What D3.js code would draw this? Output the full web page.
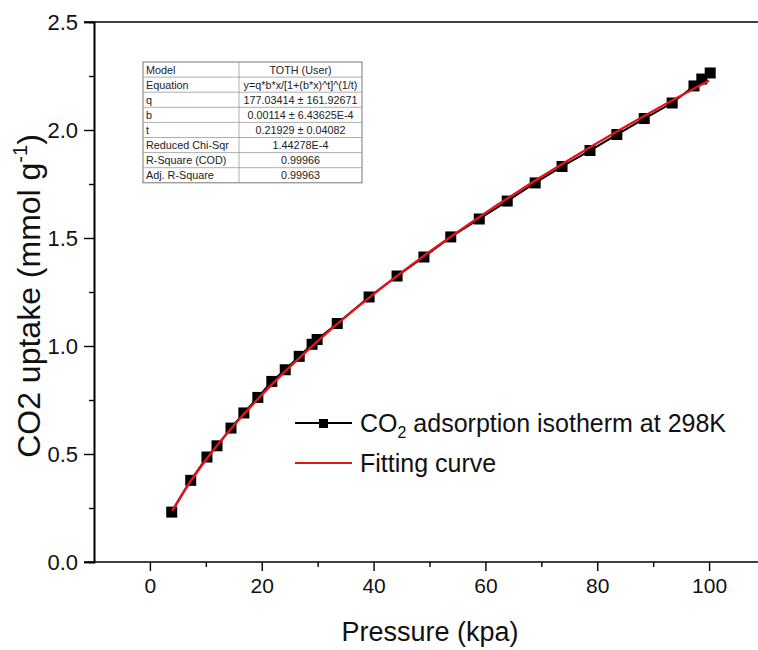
<!DOCTYPE html>
<html>
<head>
<meta charset="utf-8">
<script src="https://cdn.jsdelivr.net/npm/d3@7"></script>
<style>
  html, body { margin: 0; padding: 0; background: #fff; }
  svg { display: block; font-family: "Liberation Sans", Arial, sans-serif; }
</style>
</head>
<body>
<svg id="chart" width="758" height="650"></svg>
<script>
// Measured CO2 uptake at 298 K
const pressure = [3.9, 7.3, 10.2, 12.0, 14.5, 16.8, 19.3, 21.8, 24.2, 26.7, 29.0, 29.9,
                  33.5, 39.2, 44.2, 49.0, 53.8, 58.9, 63.9, 68.9, 73.7, 78.7, 83.5,
                  88.4, 93.4, 97.3, 98.7, 100.2];
const uptake = [0.231, 0.378, 0.486, 0.538, 0.620, 0.690, 0.762, 0.836, 0.890, 0.952, 1.008, 1.030,
                1.104, 1.227, 1.324, 1.412, 1.505, 1.588, 1.671, 1.755, 1.831, 1.905, 1.979,
                2.053, 2.125, 2.204, 2.236, 2.264];

// Toth fitting curve
const fitPressure = [4, 6, 10, 15, 20, 30, 40, 50, 60, 70, 80, 90, 100];
const fitUptake = [0.238, 0.324, 0.472, 0.632, 0.774, 1.023, 1.240, 1.436, 1.616, 1.783, 1.940, 2.088, 2.229];

const xTicks = [0, 20, 40, 60, 80, 100];
const yTicks = [0.0, 0.5, 1.0, 1.5, 2.0, 2.5];

// Fit report table
const tableRows = [
  ["Model", "TOTH (User)"],
  ["Equation", "y=q*b*x/[1+(b*x)^t]^(1/t)"],
  ["q", "177.03414 \u00b1 161.92671"],
  ["b", "0.00114 \u00b1 6.43625E-4"],
  ["t", "0.21929 \u00b1 0.04082"],
  ["Reduced Chi-Sqr", "1.44278E-4"],
  ["R-Square (COD)", "0.99966"],
  ["Adj. R-Square", "0.99963"]
];

const svg = d3.select("#chart");
const plotLeft = 94, plotTop = 22, plotBottom = 562, plotRight = 765;

const x = d3.scaleLinear().domain([-10, 110]).range([plotLeft, plotRight]);
const y = d3.scaleLinear().domain([0, 2.5]).range([plotBottom, plotTop]);

// frame top line
svg.append("line").attr("x1", plotLeft - 10).attr("x2", 758).attr("y1", plotTop).attr("y2", plotTop)
  .attr("stroke", "#000").attr("stroke-width", 1.6);

// x axis
const xAxis = svg.append("g").attr("transform", `translate(0,${plotBottom})`);
xAxis.append("g").call(d3.axisBottom(x).tickValues(d3.range(10, 111, 20)).tickSize(5).tickFormat(""));
xAxis.append("g").call(d3.axisBottom(x).tickValues(xTicks).tickSize(9).tickPadding(7).tickFormat(d3.format("d")));
xAxis.selectAll(".domain").remove();
svg.append("line").attr("x1", plotLeft - 10).attr("x2", 758).attr("y1", plotBottom).attr("y2", plotBottom)
  .attr("stroke", "#000").attr("stroke-width", 1.6);
xAxis.selectAll("line").attr("stroke-width", 1.4);
xAxis.selectAll("text").attr("font-size", 21).attr("fill", "#111")
  .attr("font-family", "'Liberation Sans', Arial, sans-serif");

// y axis
const yAxis = svg.append("g").attr("transform", `translate(${plotLeft},0)`);
yAxis.append("g").call(d3.axisLeft(y).tickValues(d3.range(0.25, 2.5, 0.5)).tickSize(5).tickFormat(""));
yAxis.append("g").call(d3.axisLeft(y).tickValues(yTicks).tickSize(10).tickPadding(6).tickFormat(d3.format(".1f")));
yAxis.selectAll(".domain").attr("stroke-width", 1.6);
yAxis.selectAll("line").attr("stroke-width", 1.4);
yAxis.selectAll("text").attr("font-size", 22).attr("fill", "#111")
  .attr("font-family", "'Liberation Sans', Arial, sans-serif");

// axis titles
svg.append("text").attr("x", 430).attr("y", 641).attr("text-anchor", "middle")
  .attr("font-size", 27).attr("fill", "#111").text("Pressure (kpa)");

const yt = svg.append("text").attr("transform", "translate(40,296) rotate(-90)")
  .attr("text-anchor", "middle").attr("font-size", 32).attr("fill", "#111");
yt.append("tspan").text("CO2 uptake (mmol g");
yt.append("tspan").attr("font-size", 20).attr("dy", -13).text("-1");
yt.append("tspan").attr("dy", 13).text(")");

// data line and markers
const pts = pressure.map((p, i) => [p, uptake[i]]);
svg.append("path").datum(pts)
  .attr("fill", "none").attr("stroke", "#000").attr("stroke-width", 2)
  .attr("d", d3.line().x(d => x(d[0])).y(d => y(d[1])));

const ms = 11;
svg.append("g").selectAll("rect").data(pts).join("rect")
  .attr("x", d => x(d[0]) - ms / 2).attr("y", d => y(d[1]) - ms / 2)
  .attr("width", ms).attr("height", ms).attr("fill", "#000");

// fitting curve
const fit = fitPressure.map((p, i) => [p, fitUptake[i]]);
svg.append("path").datum(fit)
  .attr("fill", "none").attr("stroke", "#e3141b").attr("stroke-width", 2.4)
  .attr("d", d3.line().curve(d3.curveMonotoneX).x(d => x(d[0])).y(d => y(d[1])));

// legend
const lg = svg.append("g");
lg.append("line").attr("x1", 295).attr("x2", 352).attr("y1", 423).attr("y2", 423)
  .attr("stroke", "#000").attr("stroke-width", 2);
lg.append("rect").attr("x", 319).attr("y", 419).attr("width", 9).attr("height", 9).attr("fill", "#000");
const lt = lg.append("text").attr("x", 360).attr("y", 432).attr("font-size", 25).attr("fill", "#111");
lt.append("tspan").text("CO");
lt.append("tspan").attr("font-size", 16).attr("dy", 6).text("2");
lt.append("tspan").attr("dy", -6).text(" adsorption isotherm at 298K");
lg.append("line").attr("x1", 295).attr("x2", 352).attr("y1", 463).attr("y2", 463)
  .attr("stroke", "#e3141b").attr("stroke-width", 2);
lg.append("text").attr("x", 360).attr("y", 472).attr("font-size", 25).attr("fill", "#111")
  .text("Fitting curve");

// fit report table
const tx = 143, ty = 62, c1 = 96, c2 = 123, rh = 15.1;
const tg = svg.append("g");
tg.append("rect").attr("x", tx).attr("y", ty).attr("width", c1 + c2).attr("height", rh * tableRows.length)
  .attr("fill", "#fff").attr("stroke", "#777").attr("stroke-width", 1);
tableRows.forEach((r, i) => {
  if (i > 0) {
    tg.append("line").attr("x1", tx).attr("x2", tx + c1 + c2)
      .attr("y1", ty + i * rh).attr("y2", ty + i * rh).attr("stroke", "#999").attr("stroke-width", 0.8);
  }
  tg.append("text").attr("x", tx + 3).attr("y", ty + i * rh + 11.6)
    .attr("font-size", 10.8).attr("fill", "#222").text(r[0]);
  tg.append("text").attr("x", tx + c1 + c2 / 2).attr("y", ty + i * rh + 11.6)
    .attr("text-anchor", "middle").attr("font-size", 10.8).attr("fill", "#222").text(r[1]);
});
tg.append("line").attr("x1", tx + c1).attr("x2", tx + c1).attr("y1", ty).attr("y2", ty + rh * tableRows.length)
  .attr("stroke", "#999").attr("stroke-width", 0.8);
</script>
</body>
</html>
